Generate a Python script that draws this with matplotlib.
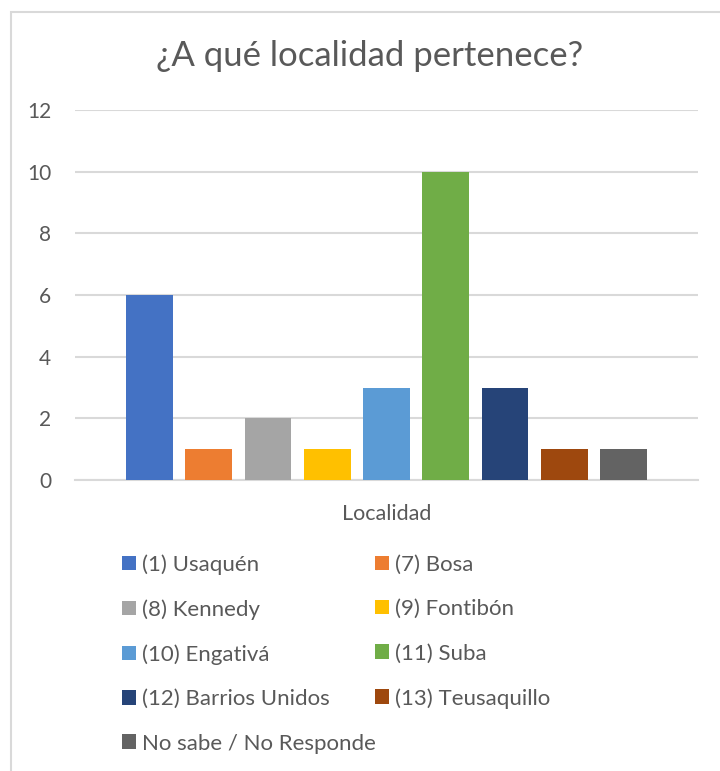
import numpy as np
import matplotlib.pyplot as plt
from matplotlib.patches import Rectangle

labels = ['(1) Usaquén', '(7) Bosa', '(8) Kennedy', '(9) Fontibón', '(10) Engativá',
          '(11) Suba', '(12) Barrios Unidos', '(13) Teusaquillo', 'No sabe / No Responde']
values = [6, 1, 2, 1, 3, 10, 3, 1, 1]
colors = ['#4472C4', '#ED7D31', '#A5A5A5', '#FFC000', '#5B9BD5',
          '#70AD47', '#264478', '#9E480E', '#636363']
category = 'Localidad'
yticks = [0, 2, 4, 6, 8, 10, 12]

plt.rcParams['font.family'] = ['Lato', 'DejaVu Sans']
txt = '#595959'
grid = '#d9d9d9'

W, H = 720, 771
fig = plt.figure(figsize=(W / 100, H / 100), dpi=100)
ax = fig.add_axes([75 / W, 1 - 480 / H, 623 / W, 370 / H])

x = np.arange(len(values))
bars = []
for i in range(len(values)):
    b = ax.bar(x[i], values[i], width=0.79, color=colors[i], label=labels[i], zorder=3)
    bars.append(b)

ax.set_xlim(-1.26, len(values) - 1 + 1.26)
ax.set_ylim(0, 12)
ax.set_yticks(yticks)
ax.set_yticklabels([str(v) for v in yticks], fontsize=15, color=txt)
ax.set_xticks([(len(values) - 1) / 2])
ax.set_xticklabels([category], fontsize=15.5, color=txt)
ax.tick_params(axis='both', length=0)
ax.tick_params(axis='y', pad=17)
ax.tick_params(axis='x', pad=17)
ax.yaxis.grid(True, color=grid, linewidth=1.5, zorder=0)
for s in ['top', 'right', 'left']:
    ax.spines[s].set_visible(False)
ax.spines['bottom'].set_color(grid)
ax.spines['bottom'].set_linewidth(1.5)

fig.text(370 / W, 1 - 56 / H, '¿A qué localidad pertenece?', fontsize=25,
         color=txt, ha='center', va='center')

# Excel fills the legend row by row, matplotlib column by column
order = [0, 2, 4, 6, 8, 1, 3, 5, 7]
handles = [bars[i] for i in order]
lab = [labels[i] for i in order]
leg = fig.legend(handles, lab, loc='upper left', bbox_to_anchor=(122 / W, 1 - 554 / H),
                 ncol=2, frameon=False, fontsize=16, handlelength=0.63, handleheight=0.63,
                 handletextpad=0.25, labelspacing=1.1, columnspacing=0.0,
                 borderaxespad=0, borderpad=0)
for t in leg.get_texts():
    t.set_color(txt)

fig.patches.append(Rectangle((11 / W, -0.1), 1.2, 1 - 12 / H + 0.1, transform=fig.transFigure,
                             fill=False, edgecolor=grid, linewidth=1.5))

fig.savefig('out.png', dpi=100, facecolor='white')
